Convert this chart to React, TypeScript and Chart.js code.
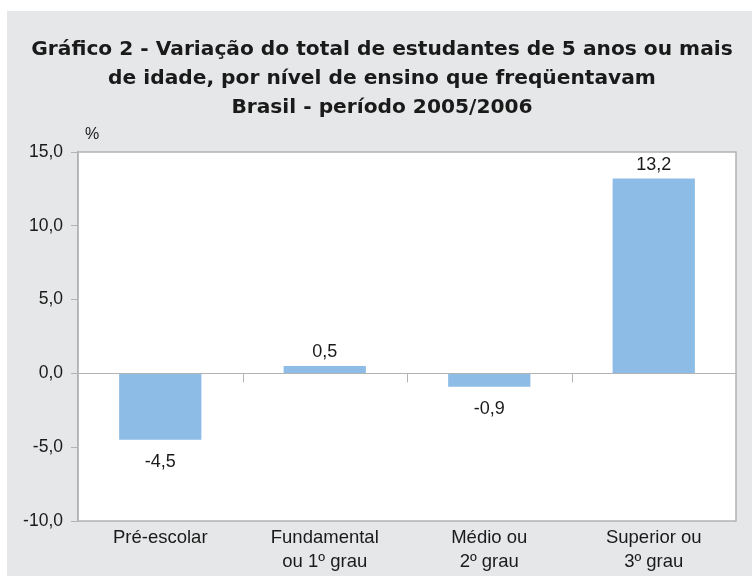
import React, { useEffect, useRef } from "react";
import { Chart, registerables } from "chart.js";

Chart.register(...registerables);

const categories: string[][] = [
  ["Pré-escolar"],
  ["Fundamental", "ou 1º grau"],
  ["Médio ou", "2º grau"],
  ["Superior ou", "3º grau"],
];
const values: number[] = [-4.5, 0.5, -0.9, 13.2];
const titleLines: string[] = [
  "Gráfico 2 - Variação do total de estudantes de 5 anos ou mais",
  "de idade, por nível de ensino que freqüentavam",
  "Brasil - período 2005/2006",
];
const yMin = -10;
const yMax = 15;
const yStep = 5;
const unitLabel = "%";

const BG = "#e6e7e8";
const BAR = "#8dbce6";
const AXIS = "#b3b3b3";
const TEXT = "#1a1a1a";
const FONT = "'Liberation Sans', Arial, Helvetica, sans-serif";
const TITLE_FONT = "'DejaVu Sans', 'Liberation Sans', sans-serif";

const fmt = (v: number) => v.toFixed(1).replace(".", ",");

const plotPlugin = {
  id: "plotDecor",
  beforeDraw(chart: any) {
    const { ctx, chartArea } = chart;
    ctx.save();
    ctx.fillStyle = "#ffffff";
    ctx.fillRect(chartArea.left, chartArea.top, chartArea.right - chartArea.left, chartArea.bottom - chartArea.top);
    ctx.restore();
  },
  afterDraw(chart: any) {
    const { ctx, chartArea, scales } = chart;
    ctx.save();
    // title
    ctx.fillStyle = TEXT;
    ctx.font = `bold 20.2px ${TITLE_FONT}`;
    ctx.textAlign = "center";
    ctx.textBaseline = "middle";
    titleLines.forEach((line, i) => {
      ctx.fillText(line, 375, 39 + i * 29);
    });
    // plot border
    ctx.strokeStyle = AXIS;
    ctx.lineWidth = 1.5;
    ctx.strokeRect(chartArea.left, chartArea.top, chartArea.right - chartArea.left, chartArea.bottom - chartArea.top);
    // category separator ticks at the zero line
    const y0 = scales.y.getPixelForValue(0);
    ctx.lineWidth = 1;
    for (let i = 1; i < categories.length; i++) {
      const x = Math.round((scales.x.getPixelForValue(i - 1) + scales.x.getPixelForValue(i)) / 2) + 0.5;
      ctx.beginPath();
      ctx.moveTo(x, y0);
      ctx.lineTo(x, y0 + 9);
      ctx.stroke();
    }
    // unit label
    ctx.font = `16px ${FONT}`;
    ctx.fillText(unitLabel, chartArea.left + 14, chartArea.top - 17);
    // value labels
    const meta = chart.getDatasetMeta(0);
    ctx.font = `18px ${FONT}`;
    meta.data.forEach((bar: any, i: number) => {
      const v = values[i];
      const y = v >= 0 ? bar.y - 14 : bar.y + 22;
      ctx.fillText(fmt(v), bar.x, y);
    });
    ctx.restore();
  },
};

export default function App() {
  const ref = useRef<HTMLCanvasElement>(null);
  useEffect(() => {
    if (!ref.current) return;
    const chart = new Chart(ref.current, {
      type: "bar",
      data: {
        labels: categories,
        datasets: [
          {
            data: values,
            backgroundColor: BAR,
            borderWidth: 0,
            barPercentage: 0.5,
            categoryPercentage: 1.0,
          },
        ],
      },
      options: {
        responsive: false,
        maintainAspectRatio: false,
        animation: false,
        devicePixelRatio: 1,
        layout: { padding: { left: 0, right: 16, top: 141, bottom: 2 } },
        plugins: {
          legend: { display: false },
          tooltip: { enabled: false },
          title: { display: false },
        },
        scales: {
          x: {
            afterFit: (s: any) => {
              s.height = 53;
            },
            grid: { display: false, drawTicks: false },
            border: { display: false },
            ticks: {
              color: TEXT,
              font: { family: FONT, size: 18.5, lineHeight: "24px" as any },
              padding: 5,
              maxRotation: 0,
              autoSkip: false,
            },
          },
          y: {
            min: yMin,
            max: yMax,
            afterFit: (s: any) => {
              s.width = 71;
            },
            grid: {
              color: (c: any) => (c.tick && c.tick.value === 0 ? AXIS : "transparent"),
              tickColor: AXIS,
              tickLength: 7,
              lineWidth: 1,
            },
            border: { display: true, color: AXIS, width: 1.5 },
            ticks: {
              stepSize: yStep,
              color: TEXT,
              padding: 8,
              font: { family: FONT, size: 17.5 },
              callback: (v: any) => fmt(Number(v)),
            },
          },
        },
      },
      plugins: [plotPlugin],
    });
    return () => chart.destroy();
  }, []);
  return (
    <div style={{ position: "absolute", left: 7, top: 11, width: 745, height: 565, background: BG }}>
      <canvas ref={ref} width={745} height={565} style={{ display: "block" }} />
    </div>
  );
}
